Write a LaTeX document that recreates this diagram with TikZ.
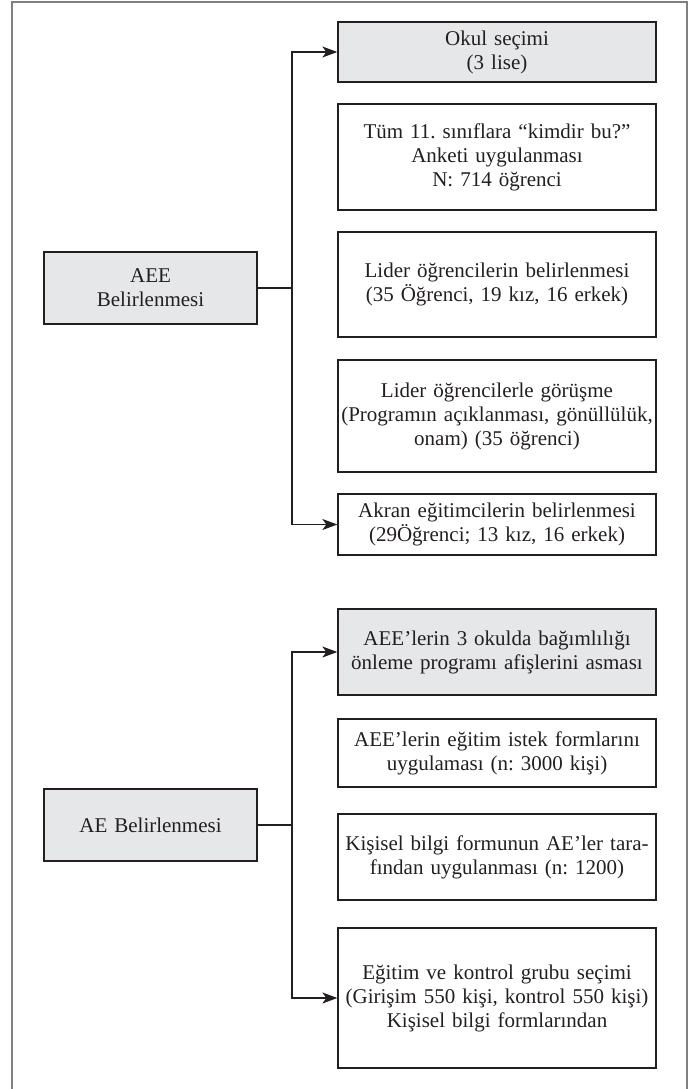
\documentclass[tikz,border=0pt]{standalone}
\usepackage{fontspec}
\setmainfont{Liberation Serif}
\usetikzlibrary{arrows.meta}
\definecolor{boxgrey}{HTML}{E6E7E8}
\definecolor{ink}{HTML}{231F20}
\definecolor{framegrey}{HTML}{808080}
\frenchspacing
\begin{document}
\begin{tikzpicture}[x=1pt,y=-1pt,
  every node/.style={font=\fontsize{21}{24}\selectfont\frenchspacing, text=ink},
  stepbox/.style={draw=ink, line width=1.3pt, minimum width=318pt, inner sep=0pt, align=center, text width=316pt, anchor=center},
  greybox/.style={stepbox, fill=boxgrey},
  headbox/.style={draw=ink, line width=1.3pt, fill=boxgrey, minimum width=213pt, minimum height=72pt, inner sep=0pt, align=center, text width=210pt, anchor=center},
  conn/.style={draw=ink, line width=1.3pt},
  arr/.style={conn, -{Stealth[length=15pt,width=11pt,inset=4pt]}},
  framestyle/.style={draw=framegrey, line width=2pt}
]
\useasboundingbox (0,0) rectangle (691,1089);
\draw[framestyle] (12,1090) -- (12,2) -- (687,2) -- (687,1090);

% left heads
\node[headbox] (aee) at (150.5,288) {AEE\\Belirlenmesi};
\node[headbox] (ae) at (150.5,825) {AE Belirlenmesi};

% upper group
\node[greybox, minimum height=60pt] (b1) at (497,52) {Okul seçimi\\(3 lise)};
\node[stepbox, minimum height=106pt] (b2) at (497,157) {Tüm 11. sınıflara “kimdir bu?”\\Anketi uygulanması\\N: 714 öğrenci};
\node[stepbox, minimum height=105pt] (b3) at (497,284.5) {Lider öğrencilerin belirlenmesi\\(35 Öğrenci, 19 kız, 16 erkek)};
\node[stepbox, minimum height=112pt] (b4) at (497,416) {Lider öğrencilerle görüşme\\(Programın açıklanması, gönüllülük,\\onam) (35 öğrenci)};
\node[stepbox, minimum height=61pt] (b5) at (497,524.5) {Akran eğitimcilerin belirlenmesi\\(29Öğrenci; 13 kız, 16 erkek)};

% lower group
\node[greybox, minimum height=86pt] (b6) at (497,652) {AEE’lerin 3 okulda bağımlılığı\\önleme programı afişlerini asması};
\node[stepbox, minimum height=68pt] (b7) at (497,753) {AEE’lerin eğitim istek formlarını\\uygulaması (n: 3000 kişi)};
\node[stepbox, minimum height=86pt] (b8) at (497,857) {Kişisel bilgi formunun AE’ler tara-\\fından uygulanması (n: 1200)};
\node[stepbox, minimum height=140pt] (b9) at (497,998) {Eğitim ve kontrol grubu seçimi\\(Girişim 550 kişi, kontrol 550 kişi)\\Kişisel bilgi formlarından};

\coordinate (jx) at (292,0);

% connectors
\draw[conn] (aee.east) -- (aee.east -| jx);
\draw[arr] (b5.west -| jx) |- (b1.west);
\draw[arr] (b1.west -| jx) |- (b5.west);

\draw[conn] (ae.east) -- (ae.east -| jx);
\draw[arr] (b9.west -| jx) |- (b6.west);
\draw[arr] (b6.west -| jx) |- (b9.west);
\end{tikzpicture}
\end{document}
